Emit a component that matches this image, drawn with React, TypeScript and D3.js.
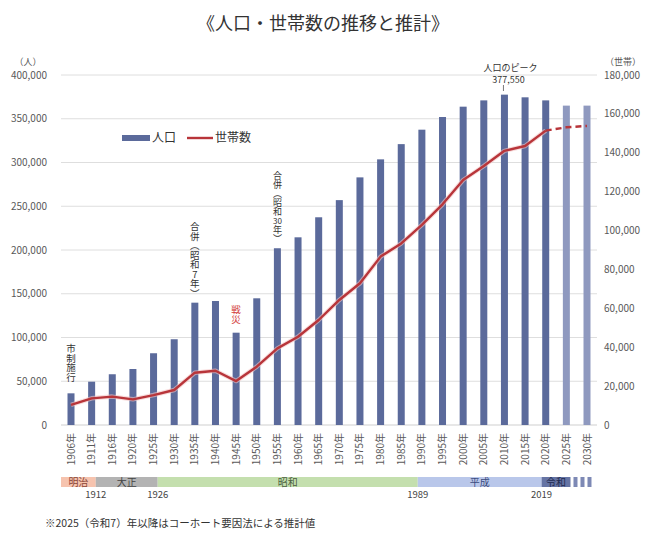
import React from 'react';
import * as d3 from 'd3';

const years = [1906, 1911, 1916, 1920, 1925, 1930, 1935, 1940, 1945, 1950, 1955, 1960, 1965, 1970, 1975, 1980, 1985, 1990, 1995, 2000, 2005, 2010, 2015, 2020, 2025, 2030];
const population = [36200, 49500, 58000, 64000, 82000, 98000, 139800, 141700, 105500, 144800, 202000, 214500, 237400, 257000, 283000, 303600, 321000, 337500, 352000, 363800, 371000, 377550, 374500, 371000, 365000, 365000];
const households = [10300, 13700, 14600, 13200, 15400, 18000, 26900, 27900, 22600, 30000, 39400, 45400, 54000, 64300, 72900, 86600, 93400, 102900, 113500, 126000, 133200, 141000, 143500, 151400, 153100, 153800];
const projectionStart = 2025;
const leftTicks = [0, 50000, 100000, 150000, 200000, 250000, 300000, 350000, 400000];
const rightTicks = [0, 20000, 40000, 60000, 80000, 100000, 120000, 140000, 160000, 180000];
const eraNames = ['明治', '大正', '昭和', '平成', '令和'];
const eraEnds = [1912, 1926, 1989, 2019, 2026];
const eraYearLabels = ['1912', '1926', '1989', '2019'];

const W = 646;
const H = 537;
const plotLeft = 61;
const plotRight = 597;
const plotTop = 75;
const plotBottom = 425;
const FONT = '"Noto Sans CJK JP", "Noto Sans", sans-serif';
const eraColors = ['#f6c3ae', '#b3b3b3', '#c4dfae', '#b9c7ea', '#6674a4'];
const eraTextColors = ['#8a4636', '#444', '#4c6040', '#3c4c80', '#1e2a50'];

export default function App() {
  const x = d3.scalePoint<number>().domain(years).range([71, 587]);
  const yL = d3.scaleLinear().domain([0, 400000]).range([plotBottom, plotTop]);
  const yR = d3.scaleLinear().domain([0, 180000]).range([plotBottom, plotTop]);
  const yearX = d3.scaleLinear().domain(years).range(years.map((y) => x(y) as number));
  const barW = 7;

  const pts = years.map((y, i) => [x(y) as number, yR(households[i])] as [number, number]);
  const projIdx = years.indexOf(2020);
  const line = d3.line();
  const solidPath = line(pts.slice(0, projIdx + 1)) || '';
  const dashPath = line(pts.slice(projIdx)) || '';

  const fmt = d3.format(',');

  const eraStarts = [plotLeft, ...eraEnds.slice(0, -1).map((e) => yearX(e))];
  const eraStops = eraEnds.map((e) => yearX(e));

  const bandY = 477;
  const bandH = 10;

  const vStyle = { writingMode: 'vertical-rl', textOrientation: 'upright', fontFamily: FONT } as any;

  // vertical text with optional horizontal (tate-chu-yoko) digits in the middle
  const vText = (parts: string[], cx: number, top: number, color: string, size = 9.5) => {
    const els: any[] = [];
    let y = top;
    parts.forEach((p, k) => {
      if (/^\d{2,}$/.test(p)) {
        els.push(
          <text key={k} x={cx} y={y + size * 0.85} textAnchor="middle" fontSize={size * 0.9} fill={color}>{p}</text>
        );
        y += size;
      } else {
        els.push(
          <text key={k} x={cx} y={y} fontSize={size} fill={color} style={vStyle}>{p}</text>
        );
        y += size * Array.from(p).length;
      }
    });
    return <g>{els}</g>;
  };

  const peakI = population.indexOf(d3.max(population) as number);
  const peakX = x(years[peakI]) as number;

  return (
    <svg width={W} height={H} style={{ position: 'absolute', left: 0, top: 0, background: '#fff' }} fontFamily={FONT}>
      <rect x={0} y={0} width={W} height={H} fill="#fff" />
      <text x={323} y={30} textAnchor="middle" fontSize={18} fill="#333">《人口・世帯数の推移と推計》</text>

      {leftTicks.map((t) => (
        <line key={t} x1={plotLeft} x2={plotRight} y1={yL(t)} y2={yL(t)} stroke={t === 0 ? '#cfcfcf' : '#dedede'} strokeWidth={1} />
      ))}

      <text x={28} y={65} textAnchor="middle" fontSize={9} fill="#555">（人）</text>
      {leftTicks.map((t) => (
        <text key={t} x={47} y={yL(t) + 3.5} textAnchor="end" fontSize={10} fill="#595959">{fmt(t)}</text>
      ))}
      <text x={623} y={65} textAnchor="middle" fontSize={9} fill="#555">（世帯）</text>
      {rightTicks.map((t) => (
        <text key={t} x={604} y={yR(t) + 3.5} textAnchor="start" fontSize={10} fill="#595959">{fmt(t)}</text>
      ))}

      {years.map((y, i) => (
        <rect
          key={y}
          x={(x(y) as number) - barW / 2}
          y={yL(population[i])}
          width={barW}
          height={plotBottom - yL(population[i])}
          fill={y >= projectionStart ? '#8f99bf' : '#5b6a9b'}
        />
      ))}

      <path d={solidPath} fill="none" stroke="#f3c4c4" strokeWidth={4.5} strokeLinejoin="round" opacity={0.6} />
      <path d={solidPath} fill="none" stroke="#b8353a" strokeWidth={2.4} strokeLinejoin="round" />
      <path d={dashPath} fill="none" stroke="#b8353a" strokeWidth={2.4} strokeDasharray="6,4" />

      <rect x={122} y={135} width={28} height={6} fill="#5b6a9b" />
      <text x={152} y={142} fontSize={12} fill="#333">人口</text>
      <line x1={187} x2={213} y1={138} y2={138} stroke="#b8353a" strokeWidth={2.4} />
      <text x={215} y={142} fontSize={12} fill="#333">世帯数</text>

      {vText(['市制施行'], x(1906) as number, 344, '#333')}
      {vText(['合併（昭和7年）'], x(1935) as number, 222, '#333')}
      {vText(['戦災'], x(1945) as number, 305, '#d23b3b')}
      {vText(['合併（昭和', '30', '年）'], x(1955) as number, 171, '#333', 9)}

      <text x={peakX + 6} y={71} textAnchor="middle" fontSize={9} fill="#333">人口のピーク</text>
      <text x={peakX + 4} y={83} textAnchor="middle" fontSize={9} fill="#333">{fmt(population[peakI])}</text>
      <line x1={peakX - 1} x2={peakX - 1} y1={85} y2={91} stroke="#555" strokeWidth={0.8} />

      {years.map((y) => (
        <text
          key={y}
          transform={`translate(${(x(y) as number) + 3.5},433) rotate(-90)`}
          textAnchor="end"
          fontSize={10}
          fill="#595959"
        >
          {`${y}年`}
        </text>
      ))}

      {eraNames.map((n, i) => (
        <g key={n}>
          <rect x={eraStarts[i]} y={bandY} width={eraStops[i] - eraStarts[i]} height={bandH} fill={eraColors[i]} />
          <text x={(eraStarts[i] + eraStops[i]) / 2} y={bandY + 8.5} textAnchor="middle" fontSize={10} fill={eraTextColors[i]}>{n}</text>
        </g>
      ))}
      {[0, 1, 2].map((k) => (
        <rect key={k} x={eraStops[4] + 3 + k * 7} y={bandY} width={4} height={bandH} fill="#7d89b5" />
      ))}
      {eraYearLabels.map((lab, i) => (
        <text key={lab} x={yearX(eraEnds[i])} y={498} textAnchor="middle" fontSize={9.5} fill="#444">{lab}</text>
      ))}

      <text x={45} y={527} fontSize={10.5} fill="#333">※2025（令和7）年以降はコーホート要因法による推計値</text>
    </svg>
  );
}
